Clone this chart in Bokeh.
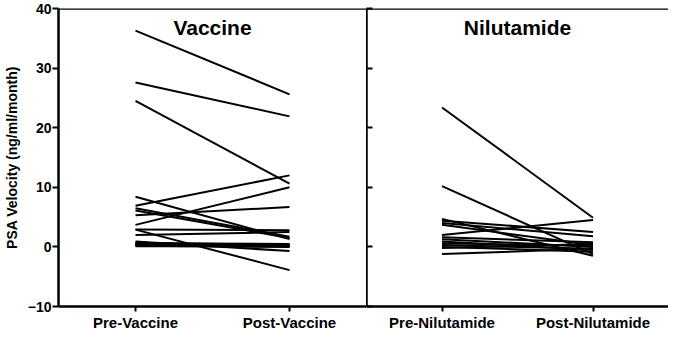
from bokeh.plotting import figure
from bokeh.models import FactorRange, Range1d, FixedTicker, Label, Span
from bokeh.layouts import row
from bokeh.embed import file_html
from bokeh.resources import INLINE

vac_cats = ["Pre-Vaccine", "Post-Vaccine"]
nil_cats = ["Pre-Nilutamide", "Post-Nilutamide"]
y_ticks = [-10, 0, 10, 20, 30, 40]

vac_pre = [36.3, 27.6, 24.5, 6.9, 3.7, 5.3, 8.4, 6.5, 6.1, 2.9, 2.9, 2.0,
           0.9, 0.7, 0.5, 0.4, 0.3, 0.2, 0.1, 0.6]
vac_post = [25.6, 21.9, 10.6, 12.0, 10.0, 6.7, 1.3, 1.7, 1.5, 2.8, -3.9, 2.5,
            -0.7, 0.3, 0.1, 0.4, 0.2, 0.0, 0.1, 0.5]

nil_pre = [23.4, 10.2, 4.7, 4.4, 4.0, 3.7, 2.0, 1.6, 1.3, 0.9, 0.6, 0.3,
           0.0, -0.2, -1.2]
nil_post = [4.9, -1.2, -1.5, 2.5, 1.8, 0.3, 4.5, 0.8, 0.0, -0.5, 0.2, -0.3,
            -0.8, 0.5, -0.3]

FONT = "Liberation Sans"


def make_panel(cats, pre, post, title, first):
    p = figure(x_range=FactorRange(factors=cats), y_range=Range1d(-10, 40),
               frame_width=308 if first else 302, frame_height=298,
               output_backend="svg", toolbar_location=None,
               min_border_top=8, min_border_right=0, min_border_left=0,
               min_border_bottom=0)
    p.outline_line_color = None
    p.xgrid.visible = False
    p.ygrid.visible = False
    p.background_fill_color = "white"
    p.border_fill_color = "white"

    xs = [[cats[0], cats[1]] for _ in pre]
    ys = [[a, b] for a, b in zip(pre, post)]
    p.multi_line(xs, ys, line_color="black", line_width=2)

    for ax in (p.xaxis[0], p.yaxis[0]):
        ax.axis_line_width = 2.5
        ax.axis_line_color = "black"
        ax.major_tick_line_width = 2
        ax.major_tick_line_color = "black"
        ax.minor_tick_line_color = None
        ax.major_label_text_font = FONT
        ax.major_label_text_font_style = "bold"
        ax.major_label_text_color = "black"

    xa = p.xaxis[0]
    xa.major_label_text_font_size = "15px"
    xa.major_tick_out = 5
    xa.major_tick_in = 0
    xa.major_label_standoff = 2

    ya = p.yaxis[0]
    ya.ticker = FixedTicker(ticks=y_ticks)
    if first:
        ya.major_label_text_font_size = "14px"
        ya.major_tick_out = 6
        ya.major_tick_in = 0
        ya.major_label_standoff = 1
        ya.axis_label = "PSA Velocity (ng/ml/month)"
        ya.axis_label_text_font = FONT
        ya.axis_label_text_font_style = "bold"
        ya.axis_label_text_font_size = "14px"
        ya.axis_label_text_color = "black"
        ya.axis_label_standoff = 5
    else:
        ya.major_label_overrides = {t: "" for t in y_ticks}
        ya.major_tick_out = 0
        ya.major_tick_in = 6
        ya.major_label_standoff = 0

    p.add_layout(Span(location=40, dimension="width", line_color="black",
                      line_width=2.5))
    p.add_layout(Label(x=1, y=40, y_offset=-7, text=title,
                       text_align="center", text_baseline="top",
                       text_font=FONT, text_font_style="bold",
                       text_font_size="21px", text_color="black"))
    return p


p1 = make_panel(vac_cats, vac_pre, vac_post, "Vaccine", True)
p2 = make_panel(nil_cats, nil_pre, nil_post, "Nilutamide", False)
p = row(p1, p2, spacing=0)

open("out.html", "w").write(file_html(p, INLINE))
